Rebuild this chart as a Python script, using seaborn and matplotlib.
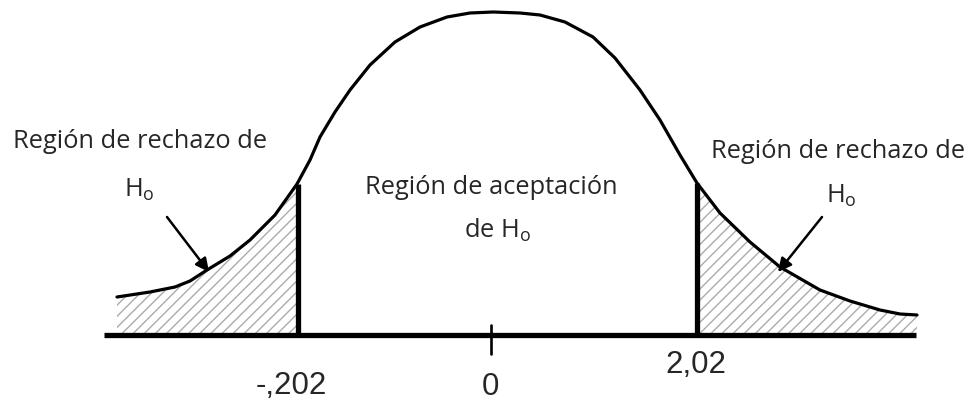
"""
Región de aceptación / rechazo de Ho - curva dibujada a mano
"""
import matplotlib
matplotlib.use("Agg")
import matplotlib.pyplot as plt
import seaborn as sns
import pandas as pd

# Curva (coordenadas, en píxeles, y hacia abajo)
curve_x = [117, 150, 175, 190, 207, 230, 250, 275, 297, 310, 320, 335, 350, 370,
           395, 420, 447, 470, 493, 520, 540, 565, 593, 615, 640, 660, 680, 697,
           720, 750, 780, 820, 850, 880, 900, 917]
curve_y = [297, 292, 287, 281, 270, 256, 240, 215, 184, 160, 137, 112, 90, 65,
           42, 27, 17, 13, 12, 13, 15, 22, 37, 58, 90, 120, 155, 183,
           213, 242, 267, 290, 301, 310, 314, 315]

baseline_y = 335
baseline_x = [104, 916]
crit_x = [298, 697]          # valores críticos
crit_labels = ["-,202", "2,02"]
center_x = 491
center_label = "0"

reject_text = "Región de rechazo de"
accept_text = "Región de aceptación"
ho_text = r"H$_{\mathrm{o}}$"

sns.set_theme(style="white")
plt.rcParams["font.family"] = ["Open Sans", "DejaVu Sans"]
plt.rcParams["mathtext.fontset"] = "custom"
plt.rcParams["mathtext.rm"] = "Open Sans"
plt.rcParams["hatch.linewidth"] = 1.0

df = pd.DataFrame({"x": curve_x, "y": curve_y})

fig = plt.figure(figsize=(9.78, 4.03), dpi=100)
ax = fig.add_axes([0, 0, 1, 1])
ax.set_xlim(0, 978)
ax.set_ylim(403, 0)
ax.axis("off")

# zonas de rechazo rayadas
left = df[df.x <= crit_x[0]]
right = df[df.x >= crit_x[1]]
for part in (left, right):
    ax.fill_between(part.x, part.y, baseline_y - 2, facecolor="white",
                    edgecolor="#ababab", hatch="///", linewidth=0)

sns.lineplot(data=df, x="x", y="y", sort=False, color="black", lw=2.3, ax=ax)

# líneas críticas
for cx in crit_x:
    top = df.iloc[(df.x - cx).abs().argmin()].y
    ax.plot([cx, cx], [baseline_y, top], color="black", lw=3.8,
            solid_capstyle="butt")

# eje
ax.plot(baseline_x, [baseline_y, baseline_y], color="black", lw=3.8,
        solid_capstyle="butt")
ax.plot([center_x, center_x], [325, 354], color="black", lw=1.9)

# etiquetas numéricas
num_font = dict(family="Liberation Sans", fontsize=22.5, ha="center", va="center")
ax.text(crit_x[0] - 7, 386, crit_labels[0], **num_font)
ax.text(crit_x[1] - 1, 365, crit_labels[1], **num_font)
ax.text(center_x - 1, 387, center_label, **num_font)

# textos
txt = dict(fontsize=18.3, ha="center", va="center")
ax.text(140, 142, reject_text, **txt)
ax.text(139, 190, ho_text, **txt)
ax.text(838, 151, reject_text, **txt)
ax.text(841, 196, ho_text, **txt)
ax.text(491, 187, accept_text, **txt)
ax.text(498, 230, "de " + ho_text, **txt)

# flechas
arrow = dict(arrowstyle="-|>", lw=1.8, color="black", mutation_scale=20,
             shrinkA=0, shrinkB=0)
ax.annotate("", xy=(209, 272), xytext=(167, 217), arrowprops=arrow)
ax.annotate("", xy=(778, 272), xytext=(822, 217), arrowprops=arrow)

fig.savefig("out.png", dpi=100)
plt.close(fig)
